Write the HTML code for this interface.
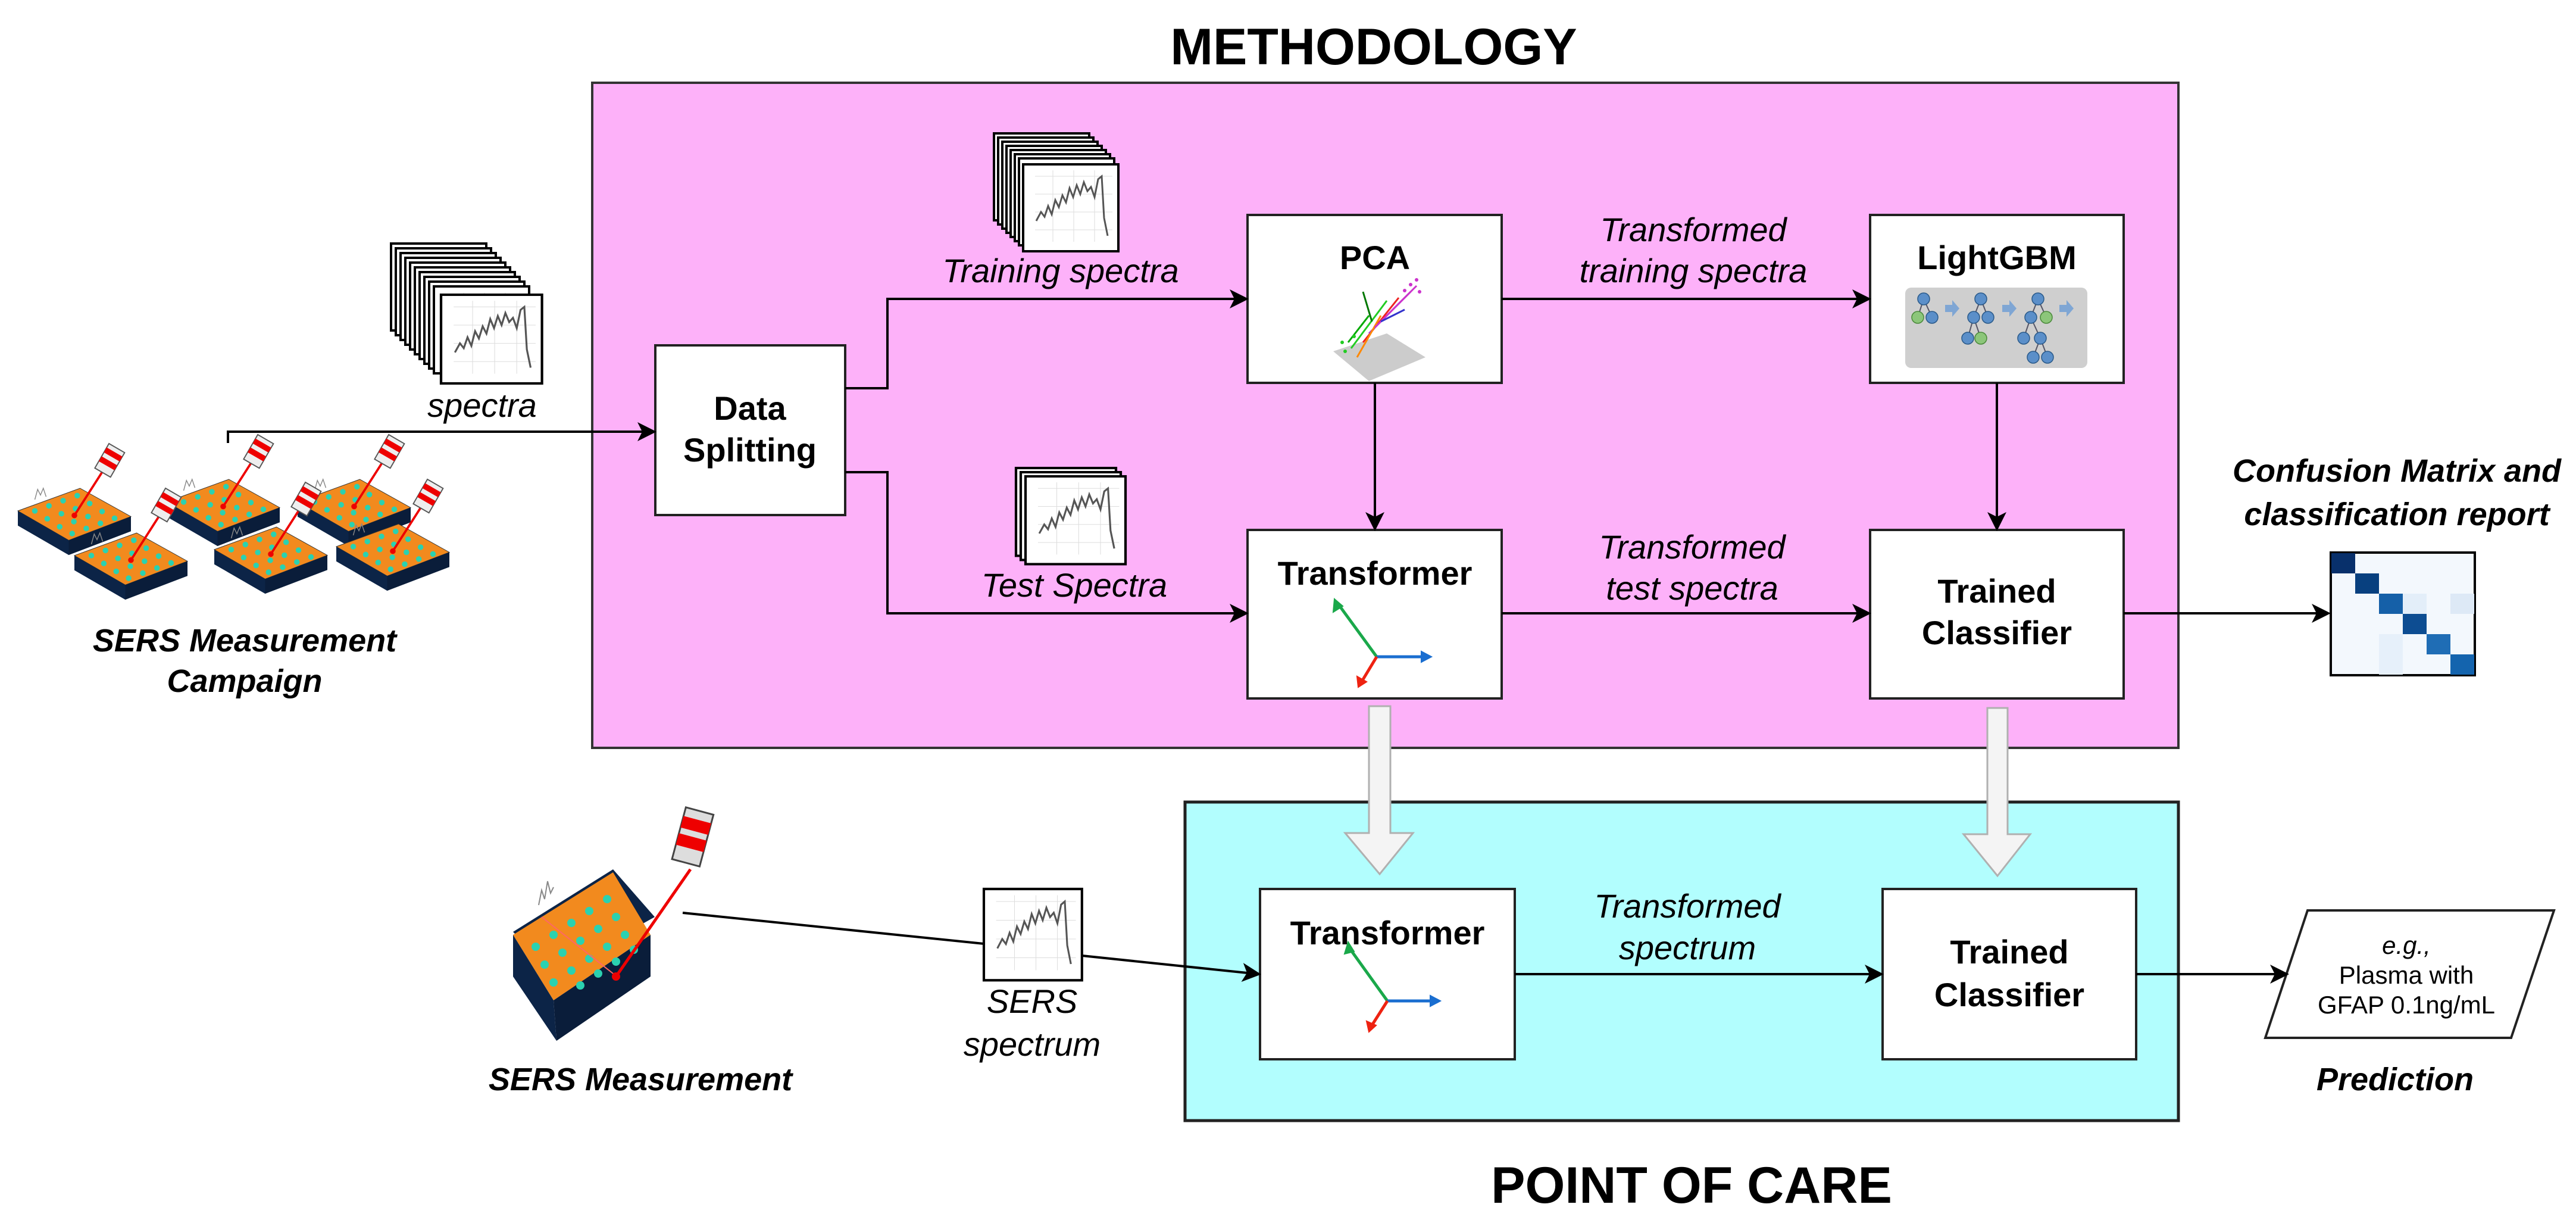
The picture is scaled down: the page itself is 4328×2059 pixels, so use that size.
<!DOCTYPE html>
<html><head><meta charset="utf-8"><style>
html,body{margin:0;padding:0;background:#fff}
svg{display:block}
text{font-family:"Liberation Sans",Arial,sans-serif}
.b{font-weight:bold;font-size:56px}
.i{font-style:italic;font-size:56px}
.bi{font-weight:bold;font-style:italic;font-size:54px}
</style></head><body>
<svg width="4328" height="2059" viewBox="0 0 4328 2059" xmlns="http://www.w3.org/2000/svg">
<defs>
<marker id="ah" markerWidth="8" markerHeight="8" refX="7" refY="4" orient="auto" markerUnits="strokeWidth">
<path d="M0,0 L8,4 L0,8 L2,4 z" fill="#000"/></marker>
<g id="spec">
<rect x="0" y="0" width="160" height="146" fill="#fff" stroke="#000" stroke-width="4"/>
<g stroke="#ddd" stroke-width="1"><line x1="20" y1="20" x2="150" y2="20"/><line x1="20" y1="50" x2="150" y2="50"/><line x1="20" y1="80" x2="150" y2="80"/><line x1="20" y1="110" x2="150" y2="110"/><line x1="50" y1="10" x2="50" y2="130"/><line x1="85" y1="10" x2="85" y2="130"/><line x1="120" y1="10" x2="120" y2="130"/></g>
<path d="M22,95 L30,80 L36,88 L42,70 L48,84 L54,60 L60,72 L66,52 L72,64 L78,40 L84,55 L90,35 L96,50 L102,30 L108,45 L114,38 L120,55 L126,25 L132,20 L136,90 L142,120" fill="none" stroke="#555" stroke-width="3"/>
</g>
<g id="chip">
<polygon points="0,40 110,0 200,50 90,92" fill="#f28a1e" stroke="#333" stroke-width="1"/>
<polygon points="0,40 90,92 90,118 0,66" fill="#0c2447"/>
<polygon points="90,92 200,50 200,76 90,118" fill="#0a1d3a"/>
<g fill="#2bd1b0">
<circle cx="30" cy="40" r="5"/><circle cx="55" cy="31" r="5"/><circle cx="80" cy="22" r="5"/><circle cx="105" cy="13" r="5"/>
<circle cx="52" cy="54" r="5"/><circle cx="77" cy="45" r="5"/><circle cx="102" cy="36" r="5"/><circle cx="127" cy="27" r="5"/>
<circle cx="74" cy="68" r="5"/><circle cx="99" cy="59" r="5"/><circle cx="124" cy="50" r="5"/><circle cx="149" cy="41" r="5"/>
<circle cx="96" cy="80" r="5"/><circle cx="121" cy="71" r="5"/><circle cx="146" cy="62" r="5"/><circle cx="171" cy="53" r="5"/>
</g>
<line x1="100" y1="48" x2="150" y2="-30" stroke="#e00" stroke-width="4"/>
<circle cx="100" cy="48" r="5" fill="#e00"/>
<g transform="translate(160,-45) rotate(30)">
<rect x="-16" y="-30" width="32" height="50" fill="#eee" stroke="#555" stroke-width="2"/>
<rect x="-16" y="-22" width="32" height="10" fill="#e00"/>
<rect x="-16" y="-4" width="32" height="10" fill="#e00"/>
</g>
<path d="M30,20 l5,-18 l5,10 l5,-12 l5,15" fill="none" stroke="#888" stroke-width="1.5"/>
</g>
</defs>

<!-- titles -->
<text x="2308" y="108" text-anchor="middle" font-weight="bold" font-size="86">METHODOLOGY</text>
<text x="2842" y="2020" text-anchor="middle" font-weight="bold" font-size="86">POINT OF CARE</text>

<!-- pink box -->
<rect x="995" y="139" width="2665" height="1117" fill="#fdb1f9" stroke="#333" stroke-width="4"/>
<!-- cyan box -->
<rect x="1991" y="1347" width="1669" height="535" fill="#b2fefe" stroke="#222" stroke-width="5"/>

<!-- boxes -->
<g fill="#fff" stroke="#222" stroke-width="4">
<rect x="1101" y="580" width="319" height="285"/>
<rect x="2096" y="361" width="427" height="282"/>
<rect x="3142" y="361" width="426" height="282"/>
<rect x="2096" y="890" width="427" height="283"/>
<rect x="3142" y="890" width="426" height="283"/>
<rect x="2117" y="1493" width="428" height="286"/>
<rect x="3163" y="1493" width="426" height="286"/>
<polygon points="3877,1529 4291,1529 4219,1743 3806,1743"/>
</g>

<!-- box labels -->
<text class="b" x="1260" y="705" text-anchor="middle">Data</text>
<text class="b" x="1260" y="775" text-anchor="middle">Splitting</text>
<text class="b" x="2310" y="452" text-anchor="middle">PCA</text>
<text class="b" x="3355" y="452" text-anchor="middle">LightGBM</text>
<text class="b" x="2310" y="982" text-anchor="middle">Transformer</text>
<text class="b" x="3355" y="1012" text-anchor="middle">Trained</text>
<text class="b" x="3355" y="1082" text-anchor="middle">Classifier</text>
<text class="b" x="2331" y="1586" text-anchor="middle">Transformer</text>
<text class="b" x="3376" y="1618" text-anchor="middle">Trained</text>
<text class="b" x="3376" y="1690" text-anchor="middle">Classifier</text>
<text x="4043" y="1602" text-anchor="middle" font-size="42" font-style="italic">e.g.,</text>
<text x="4043" y="1652" text-anchor="middle" font-size="42">Plasma with</text>
<text x="4043" y="1702" text-anchor="middle" font-size="42">GFAP 0.1ng/mL</text>

<!-- italic labels -->
<text class="i" x="1782" y="474" text-anchor="middle">Training spectra</text>
<text class="i" x="1805" y="1002" text-anchor="middle">Test Spectra</text>
<text class="i" x="810" y="700" text-anchor="middle">spectra</text>
<text class="i" x="2845" y="405" text-anchor="middle">Transformed</text>
<text class="i" x="2845" y="474" text-anchor="middle">training spectra</text>
<text class="i" x="2843" y="938" text-anchor="middle">Transformed</text>
<text class="i" x="2843" y="1007" text-anchor="middle">test spectra</text>
<text class="i" x="2835" y="1541" text-anchor="middle">Transformed</text>
<text class="i" x="2835" y="1611" text-anchor="middle">spectrum</text>
<text class="i" x="1734" y="1701" text-anchor="middle">SERS</text>
<text class="i" x="1734" y="1773" text-anchor="middle">spectrum</text>
<text class="bi" x="411" y="1094" text-anchor="middle">SERS Measurement</text>
<text class="bi" x="411" y="1162" text-anchor="middle">Campaign</text>
<text class="bi" x="1076" y="1831" text-anchor="middle">SERS Measurement</text>
<text class="bi" x="4024" y="1831" text-anchor="middle">Prediction</text>
<text class="bi" x="4027" y="809" text-anchor="middle">Confusion Matrix and</text>
<text class="bi" x="4027" y="882" text-anchor="middle">classification report</text>

<!-- connectors -->
<g fill="none" stroke="#000" stroke-width="4" marker-end="url(#ah)">
<polyline points="383,744 383,725 1099,725"/>
<polyline points="1420,652 1491,652 1491,502 2094,502"/>
<polyline points="1420,793 1491,793 1491,1030 2094,1030"/>
<line x1="2523" y1="502" x2="3140" y2="502"/>
<line x1="2523" y1="1030" x2="3140" y2="1030"/>
<line x1="3568" y1="1030" x2="3912" y2="1030"/>
<line x1="2310" y1="643" x2="2310" y2="888"/>
<line x1="3355" y1="643" x2="3355" y2="888"/>
<line x1="1818" y1="1605" x2="2115" y2="1636"/>
<line x1="2545" y1="1636" x2="3161" y2="1636"/>
<line x1="3589" y1="1636" x2="3842" y2="1636"/>
</g>
<line x1="1147" y1="1533" x2="1653" y2="1585" stroke="#000" stroke-width="4"/>

<!-- hollow arrows -->
<g fill="#f4f4f4" stroke="#b0b0b0" stroke-width="3">
<polygon points="2300,1186 2336,1186 2336,1399 2374,1399 2318,1468 2260,1399 2300,1399"/>
<polygon points="3339,1189 3373,1189 3373,1401 3411,1401 3356,1471 3299,1401 3339,1401"/>
</g>

<!-- spectra stacks -->
<g>
<use href="#spec" transform="translate(657,409)"/><use href="#spec" transform="translate(665,417)"/><use href="#spec" transform="translate(673,425)"/><use href="#spec" transform="translate(681,433)"/><use href="#spec" transform="translate(689,441)"/><use href="#spec" transform="translate(697,449)"/><use href="#spec" transform="translate(705,457)"/><use href="#spec" transform="translate(713,465)"/><use href="#spec" transform="translate(721,473)"/><use href="#spec" transform="translate(729,481)"/><use href="#spec" transform="translate(741,495) scale(1.06,1.02)"/>
</g>
<g>
<use href="#spec" transform="translate(1670,224)"/><use href="#spec" transform="translate(1677,231)"/><use href="#spec" transform="translate(1684,238)"/><use href="#spec" transform="translate(1691,245)"/><use href="#spec" transform="translate(1698,252)"/><use href="#spec" transform="translate(1705,259)"/><use href="#spec" transform="translate(1712,266)"/><use href="#spec" transform="translate(1719,276)"/>
</g>
<g>
<use href="#spec" transform="translate(1707,786) scale(1.05,1.01)"/><use href="#spec" transform="translate(1715,793) scale(1.05,1.01)"/><use href="#spec" transform="translate(1723,800) scale(1.05,1.01)"/>
</g>
<use href="#spec" transform="translate(1653,1493) scale(1.03,1.05)"/>

<!-- chips -->
<use href="#chip" transform="translate(30,820) scale(0.95)"/>
<use href="#chip" transform="translate(280,805) scale(0.95)"/>
<use href="#chip" transform="translate(500,805) scale(0.95)"/>
<use href="#chip" transform="translate(125,895) scale(0.95)"/>
<use href="#chip" transform="translate(360,885) scale(0.95)"/>
<use href="#chip" transform="translate(565,880) scale(0.95)"/>
<!-- big chip -->
<g>
<polygon points="862,1485 1030,1380 1100,1460 930,1555" fill="#0c2447" transform="translate(0,80)"/>
<polygon points="862,1570 1030,1465 1093,1570 930,1680" fill="#f28a1e"/>
<polygon points="862,1570 930,1680 935,1748 862,1640" fill="#0c2447"/>
<polygon points="930,1680 1093,1570 1093,1640 935,1748" fill="#0a1d3a"/>
<g fill="#2bd1b0">
<circle cx="900" cy="1590" r="7"/><circle cx="930" cy="1570" r="7"/><circle cx="960" cy="1550" r="7"/><circle cx="990" cy="1530" r="7"/><circle cx="1020" cy="1510" r="7"/>
<circle cx="915" cy="1620" r="7"/><circle cx="945" cy="1600" r="7"/><circle cx="975" cy="1580" r="7"/><circle cx="1005" cy="1560" r="7"/><circle cx="1035" cy="1540" r="7"/>
<circle cx="930" cy="1650" r="7"/><circle cx="960" cy="1630" r="7"/><circle cx="990" cy="1610" r="7"/><circle cx="1020" cy="1590" r="7"/><circle cx="1050" cy="1570" r="7"/>
<circle cx="975" cy="1655" r="7"/><circle cx="1005" cy="1635" r="7"/><circle cx="1035" cy="1615" r="7"/><circle cx="1065" cy="1595" r="7"/>
</g>
<line x1="1035" y1="1640" x2="1160" y2="1460" stroke="#e00" stroke-width="5"/>
<line x1="910" y1="1540" x2="1030" y2="1635" stroke="#f66" stroke-width="2"/>
<circle cx="1035" cy="1640" r="7" fill="#e00"/>
<g transform="translate(1160,1420) rotate(15)">
<rect x="-24" y="-60" width="48" height="90" fill="#ddd" stroke="#444" stroke-width="3"/>
<rect x="-24" y="-45" width="48" height="20" fill="#e00"/>
<rect x="-24" y="-15" width="48" height="20" fill="#e00"/>
</g>
<path d="M905,1520 l5,-25 l5,15 l5,-30 l5,20 l5,-10" fill="none" stroke="#888" stroke-width="2"/>
</g>

<!-- PCA scatter -->
<g>
<polygon points="2240,590 2330,560 2395,600 2300,640" fill="#ccc"/>
<g stroke-width="3">
<line x1="2270" y1="585" x2="2330" y2="505" stroke="#2c2"/><line x1="2290" y1="575" x2="2350" y2="500" stroke="#e22"/>
<line x1="2300" y1="560" x2="2370" y2="490" stroke="#a3c"/><line x1="2280" y1="600" x2="2320" y2="530" stroke="#f80"/>
<line x1="2310" y1="550" x2="2380" y2="480" stroke="#c3c"/><line x1="2265" y1="575" x2="2300" y2="530" stroke="#0a0"/>
<line x1="2320" y1="540" x2="2360" y2="520" stroke="#33c"/><line x1="2305" y1="540" x2="2290" y2="490" stroke="#070"/>
</g>
<g fill="#c3c"><circle cx="2370" cy="478" r="3"/><circle cx="2380" cy="470" r="3"/><circle cx="2360" cy="488" r="3"/><circle cx="2385" cy="490" r="3"/></g>
<g fill="#2c2"><circle cx="2260" cy="590" r="3"/><circle cx="2275" cy="565" r="3"/><circle cx="2255" cy="575" r="3"/></g>
</g>

<!-- LightGBM image -->
<g>
<rect x="3201" y="483" width="306" height="135" rx="10" fill="#cfcfcf"/>
<g stroke="#556" stroke-width="2">
<line x1="3232" y1="502" x2="3222" y2="533"/><line x1="3232" y1="502" x2="3246" y2="533"/>
<line x1="3328" y1="502" x2="3316" y2="533"/><line x1="3328" y1="502" x2="3340" y2="533"/><line x1="3316" y1="533" x2="3306" y2="568"/><line x1="3316" y1="533" x2="3328" y2="568"/>
<line x1="3424" y1="502" x2="3412" y2="533"/><line x1="3424" y1="502" x2="3438" y2="533"/><line x1="3412" y1="533" x2="3400" y2="568"/><line x1="3412" y1="533" x2="3428" y2="568"/><line x1="3428" y1="568" x2="3416" y2="600"/><line x1="3428" y1="568" x2="3440" y2="600"/>
</g>
<g fill="#5b8fc9" stroke="#2a5a8a" stroke-width="1.5">
<circle cx="3232" cy="502" r="10"/><circle cx="3246" cy="533" r="10"/>
<circle cx="3328" cy="502" r="10"/><circle cx="3316" cy="533" r="10"/><circle cx="3340" cy="533" r="10"/><circle cx="3306" cy="568" r="10"/>
<circle cx="3424" cy="502" r="10"/><circle cx="3412" cy="533" r="10"/><circle cx="3400" cy="568" r="10"/><circle cx="3428" cy="568" r="10"/><circle cx="3416" cy="600" r="10"/><circle cx="3440" cy="600" r="10"/>
</g>
<g fill="#8cc67a" stroke="#4a8a3a" stroke-width="1.5"><circle cx="3222" cy="533" r="10"/><circle cx="3328" cy="568" r="10"/><circle cx="3438" cy="533" r="10"/></g>
<g fill="#7fa6d4"><polygon points="3268,512 3280,512 3280,504 3292,518 3280,532 3280,524 3268,524"/><polygon points="3364,512 3376,512 3376,504 3388,518 3376,532 3376,524 3364,524"/><polygon points="3460,512 3472,512 3472,504 3484,518 3472,532 3472,524 3460,524"/></g>
</g>

<!-- axes -->
<g stroke-width="5" fill="none">
<line x1="2313" y1="1103" x2="2248" y2="1014" stroke="#1aa84a"/><polygon points="2242,1006 2240,1028 2256,1018" fill="#1aa84a" stroke="#1aa84a" stroke-width="2"/>
<line x1="2313" y1="1103" x2="2395" y2="1103" stroke="#1a6ed0"/><polygon points="2405,1103 2388,1094 2388,1112" fill="#1a6ed0" stroke="#1a6ed0" stroke-width="2"/>
<line x1="2313" y1="1103" x2="2287" y2="1146" stroke="#e21"/><polygon points="2282,1154 2280,1136 2296,1145" fill="#e21" stroke="#e21" stroke-width="2"/>
<line x1="2331" y1="1681" x2="2267" y2="1592" stroke="#1aa84a"/><polygon points="2265,1582 2259,1602 2275,1598" fill="#1aa84a" stroke="#1aa84a" stroke-width="2"/>
<line x1="2331" y1="1681" x2="2410" y2="1681" stroke="#1a6ed0"/><polygon points="2420,1681 2403,1672 2403,1690" fill="#1a6ed0" stroke="#1a6ed0" stroke-width="2"/>
<line x1="2331" y1="1681" x2="2303" y2="1725" stroke="#e21"/><polygon points="2300,1733 2296,1715 2312,1722" fill="#e21" stroke="#e21" stroke-width="2"/>
</g>

<!-- confusion matrix -->
<g>
<rect x="3916" y="928" width="242" height="206" fill="#f3f8fd" stroke="#000" stroke-width="4"/>
<rect x="3917" y="929" width="40" height="34" fill="#08306b"/>
<rect x="3957" y="963" width="40" height="34" fill="#08407f"/>
<rect x="3997" y="997" width="40" height="34" fill="#1560a8"/>
<rect x="4037" y="1031" width="40" height="34" fill="#0d4d92"/>
<rect x="4077" y="1065" width="40" height="34" fill="#1f6db5"/>
<rect x="4117" y="1099" width="40" height="34" fill="#1464ae"/>
<rect x="4117" y="997" width="40" height="34" fill="#dde9f6"/>
<rect x="4037" y="997" width="40" height="34" fill="#e3eef9"/>
<rect x="3997" y="1065" width="40" height="68" fill="#e6f0fa"/>
</g>
</svg>
</body></html>
